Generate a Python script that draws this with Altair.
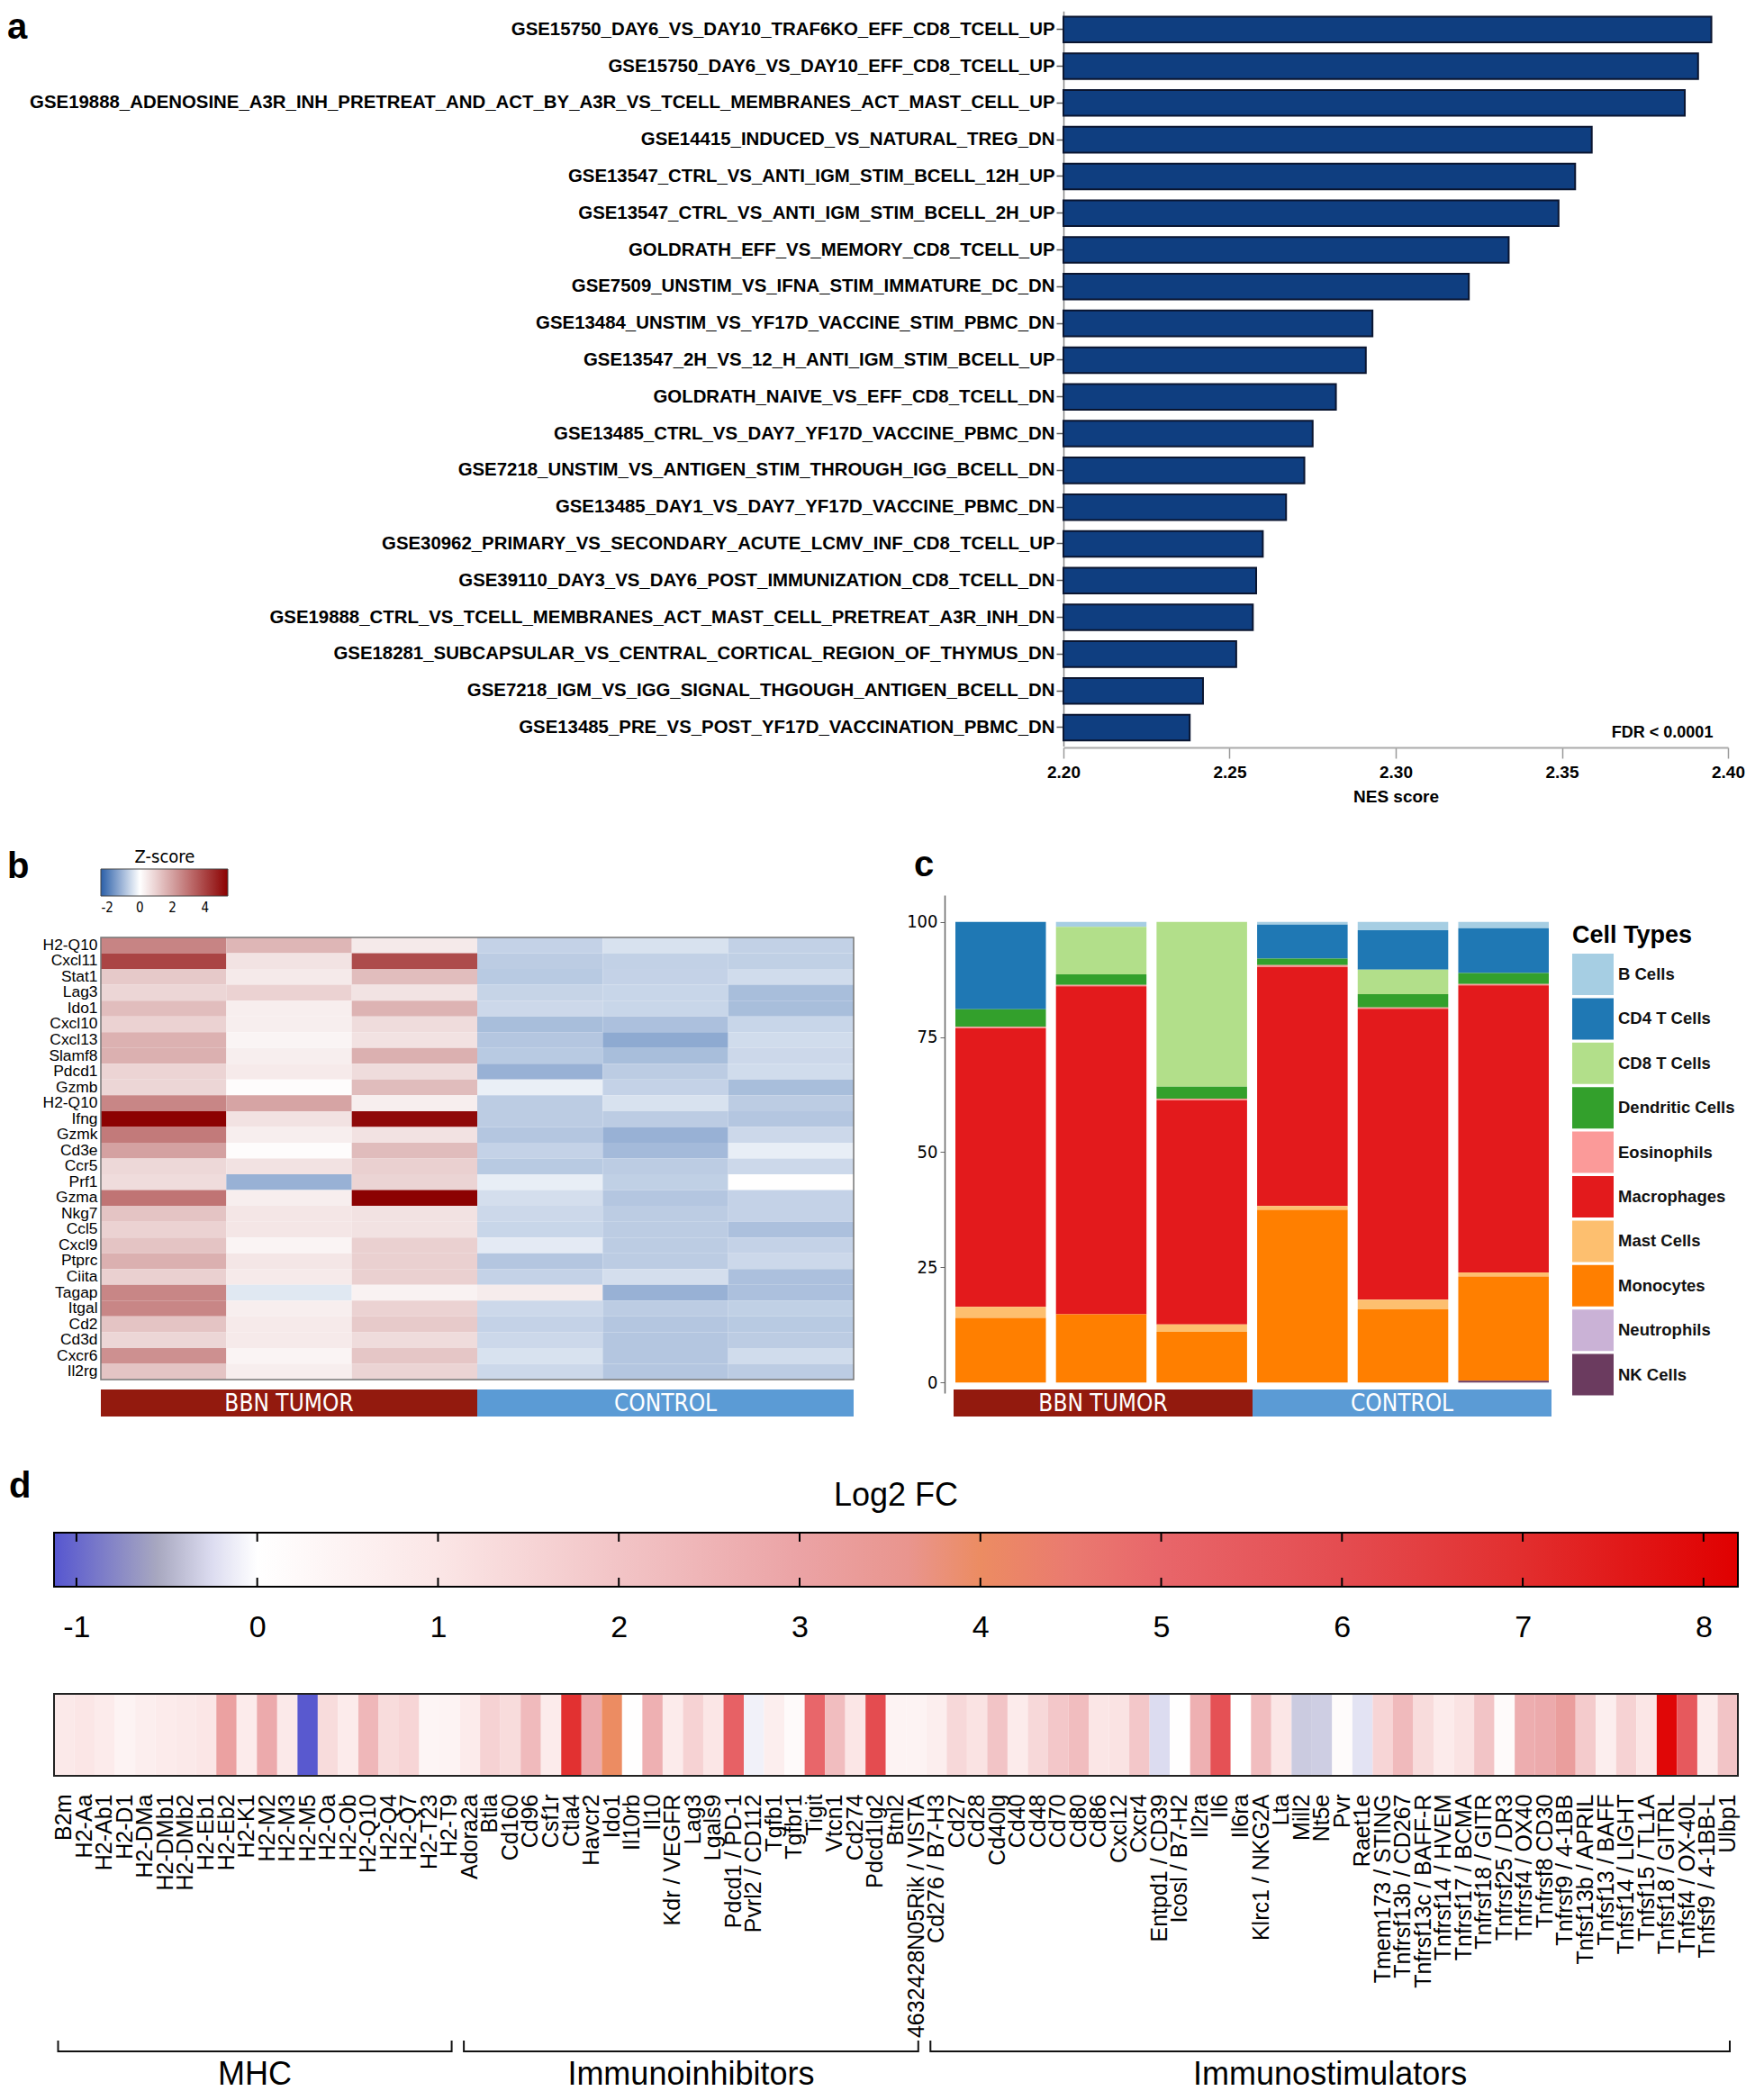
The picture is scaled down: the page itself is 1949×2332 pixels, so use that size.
import altair as alt
import pandas as pd

W, H = 1933, 2316
FONT = "Liberation Sans, Arial, Helvetica, sans-serif"
NARROW = "Liberation Sans Narrow, Arial Narrow, DejaVu Sans Condensed, Liberation Sans, sans-serif"
ASCII_MINUS = "datum.value < 0 ? '-' + abs(datum.value) : '' + datum.value"

# ---------------- panel a data ----------------
gene_sets = [
    "GSE15750_DAY6_VS_DAY10_TRAF6KO_EFF_CD8_TCELL_UP",
    "GSE15750_DAY6_VS_DAY10_EFF_CD8_TCELL_UP",
    "GSE19888_ADENOSINE_A3R_INH_PRETREAT_AND_ACT_BY_A3R_VS_TCELL_MEMBRANES_ACT_MAST_CELL_UP",
    "GSE14415_INDUCED_VS_NATURAL_TREG_DN",
    "GSE13547_CTRL_VS_ANTI_IGM_STIM_BCELL_12H_UP",
    "GSE13547_CTRL_VS_ANTI_IGM_STIM_BCELL_2H_UP",
    "GOLDRATH_EFF_VS_MEMORY_CD8_TCELL_UP",
    "GSE7509_UNSTIM_VS_IFNA_STIM_IMMATURE_DC_DN",
    "GSE13484_UNSTIM_VS_YF17D_VACCINE_STIM_PBMC_DN",
    "GSE13547_2H_VS_12_H_ANTI_IGM_STIM_BCELL_UP",
    "GOLDRATH_NAIVE_VS_EFF_CD8_TCELL_DN",
    "GSE13485_CTRL_VS_DAY7_YF17D_VACCINE_PBMC_DN",
    "GSE7218_UNSTIM_VS_ANTIGEN_STIM_THROUGH_IGG_BCELL_DN",
    "GSE13485_DAY1_VS_DAY7_YF17D_VACCINE_PBMC_DN",
    "GSE30962_PRIMARY_VS_SECONDARY_ACUTE_LCMV_INF_CD8_TCELL_UP",
    "GSE39110_DAY3_VS_DAY6_POST_IMMUNIZATION_CD8_TCELL_DN",
    "GSE19888_CTRL_VS_TCELL_MEMBRANES_ACT_MAST_CELL_PRETREAT_A3R_INH_DN",
    "GSE18281_SUBCAPSULAR_VS_CENTRAL_CORTICAL_REGION_OF_THYMUS_DN",
    "GSE7218_IGM_VS_IGG_SIGNAL_THGOUGH_ANTIGEN_BCELL_DN",
    "GSE13485_PRE_VS_POST_YF17D_VACCINATION_PBMC_DN",
]
nes = [2.395, 2.391, 2.387, 2.359, 2.354, 2.349, 2.334, 2.322, 2.293, 2.291,
       2.282, 2.275, 2.2725, 2.267, 2.260, 2.258, 2.257, 2.252, 2.242, 2.238]
fdr_text = "FDR < 0.0001"
nes_ticks = [2.20, 2.25, 2.30, 2.35, 2.40]

# ---------------- panel b data ----------------
hm_genes = ["H2-Q10", "Cxcl11", "Stat1", "Lag3", "Ido1", "Cxcl10", "Cxcl13", "Slamf8",
            "Pdcd1", "Gzmb", "H2-Q10 ", "Ifng", "Gzmk", "Cd3e", "Ccr5", "Prf1", "Gzma",
            "Nkg7", "Ccl5", "Cxcl9", "Ptprc", "Ciita", "Tagap", "Itgal", "Cd2", "Cd3d",
            "Cxcr6", "Il2rg"]
hm_samples = ["BBN 1", "BBN 2", "BBN 3", "CTRL 1", "CTRL 2", "CTRL 3"]
hm_z = [
    [2.6, 1.55, 0.45, -0.67, -0.44, -0.69],
    [3.95, 0.6, 3.8, -0.76, -0.69, -0.71],
    [1.15, 0.45, 1.4, -0.8, -0.67, -0.53],
    [0.87, 0.95, 0.6, -0.65, -0.62, -0.98],
    [1.4, 0.36, 1.6, -0.58, -0.62, -0.98],
    [0.95, 0.36, 0.74, -0.98, -0.94, -0.62],
    [1.65, 0.23, 0.61, -0.85, -1.28, -0.53],
    [1.67, 0.36, 1.67, -0.8, -0.98, -0.58],
    [0.9, 0.44, 0.74, -1.17, -0.76, -0.53],
    [0.87, 0.06, 1.42, -0.24, -0.67, -0.98],
    [2.56, 1.93, 0.36, -0.76, -0.44, -0.76],
    [5.35, 0.61, 5.2, -0.76, -0.76, -0.85],
    [2.82, 0.36, 0.61, -0.85, -1.17, -0.58],
    [2.0, 0.06, 1.42, -0.67, -1.03, -0.26],
    [0.83, 0.61, 0.99, -0.8, -0.76, -0.58],
    [0.74, -1.17, 0.91, -0.26, -0.71, 0.02],
    [2.94, 0.36, 5.35, -0.49, -0.85, -0.67],
    [1.25, 0.53, 0.61, -0.58, -0.76, -0.67],
    [0.95, 0.53, 0.61, -0.62, -0.76, -0.94],
    [1.25, 0.23, 0.99, -0.31, -0.76, -0.67],
    [1.67, 0.53, 0.99, -0.85, -0.76, -0.58],
    [0.99, 0.44, 0.99, -0.67, -0.49, -0.94],
    [2.56, -0.35, 0.28, 0.4, -1.17, -0.94],
    [2.56, 0.36, 0.95, -0.58, -0.76, -0.71],
    [1.25, 0.44, 1.12, -0.67, -0.85, -0.8],
    [0.87, 0.44, 0.74, -0.58, -0.85, -0.76],
    [2.35, 0.23, 1.21, -0.44, -0.85, -0.53],
    [1.25, 0.36, 0.91, -0.58, -0.85, -0.76],
]
z_stops = [-2.4, 0, 5.4]
z_colors = ["#2b5fa8", "#ffffff", "#8b0000"]
z_ticks = [-2, 0, 2, 4]

groups = ["BBN TUMOR", "CONTROL"]
group_start = [0, 3]
group_end = [3, 6]
group_colors = ["#931a0e", "#5b9bd5"]

# ---------------- panel c data ----------------
cell_types = ["B Cells", "CD4 T Cells", "CD8 T Cells", "Dendritic Cells", "Eosinophils",
              "Macrophages", "Mast Cells", "Monocytes", "Neutrophils", "NK Cells"]
cell_colors = ["#a6cee3", "#1f78b4", "#b2df8a", "#33a02c", "#fb9a99",
               "#e31a1c", "#fdbf6f", "#ff7f00", "#cab2d6", "#6b3b5f"]
cell_pct = {
    "BBN 1": [0.0, 19.0, 0.0, 3.8, 0.3, 60.5, 2.4, 14.0, 0.0, 0.0],
    "BBN 2": [1.1, 0.0, 10.3, 2.3, 0.3, 71.2, 0.0, 14.8, 0.0, 0.0],
    "BBN 3": [0.0, 0.0, 35.8, 2.6, 0.3, 48.7, 1.6, 11.0, 0.0, 0.0],
    "CTRL 1": [0.6, 7.4, 0.0, 1.4, 0.4, 51.9, 0.8, 37.5, 0.0, 0.0],
    "CTRL 2": [1.8, 8.6, 5.3, 2.9, 0.3, 63.1, 2.1, 15.9, 0.0, 0.0],
    "CTRL 3": [1.4, 9.7, 0.0, 2.4, 0.3, 62.3, 0.9, 22.6, 0.0, 0.4],
}
pct_ticks = [0, 25, 50, 75, 100]

# ---------------- panel d data ----------------
immune_genes = [
    "B2m", "H2-Aa", "H2-Ab1", "H2-D1", "H2-DMa", "H2-DMb1", "H2-DMb2", "H2-Eb1", "H2-Eb2",
    "H2-K1", "H2-M2", "H2-M3", "H2-M5", "H2-Oa", "H2-Ob", "H2-Q10", "H2-Q4", "H2-Q7",
    "H2-T23", "H2-T9",
    "Adora2a", "Btla", "Cd160", "Cd96", "Csf1r", "Ctla4", "Havcr2", "Ido1", "Il10rb", "Il10",
    "Kdr / VEGFR", "Lag3", "Lgals9", "Pdcd1 / PD-1", "Pvrl2 / CD112", "Tgfb1", "Tgfbr1",
    "Tigit", "Vtcn1", "Cd274", "Pdcd1lg2", "Btnl2", "4632428N05Rik / VISTA",
    "Cd276 / B7-H3", "Cd27", "Cd28", "Cd40lg", "Cd40", "Cd48", "Cd70", "Cd80", "Cd86",
    "Cxcl12", "Cxcr4", "Entpd1 / CD39", "Icosl / B7-H2", "Il2ra", "Il6", "Il6ra",
    "Klrc1 / NKG2A", "Lta", "Mill2", "Nt5e", "Pvr", "Raet1e", "Tmem173 / STING",
    "Tnfrsf13b / CD267", "Tnfrsf13c / BAFF-R", "Tnfrsf14 / HVEM", "Tnfrsf17 / BCMA",
    "Tnfrsf18 / GITR", "Tnfrsf25 / DR3", "Tnfrsf4 / OX40", "Tnfrsf8 CD30",
    "Tnfrsf9 / 4-1BB", "Tnfsf13b / APRIL", "Tnfsf13 / BAFF", "Tnfsf14 / LIGHT",
    "Tnfsf15 / TL1A", "Tnfsf18 / GITRL", "Tnfsf4 / OX-40L", "Tnfsf9 / 4-1BB-L", "Ulbp1",
]
immune_lfc = [
    0.9, 1.0, 0.8, 0.5, 0.7, 0.8, 0.9, 1.0, 3.1, 0.8, 2.8, 0.9, -1.1, 1.3, 0.8, 2.4, 1.3,
    1.5, 0.4, 0.5,
    0.8, 1.6, 1.3, 2.3, 0.8, 6.9, 2.8, 4.0, 0.05, 2.6, 0.8, 1.6, 1.0, 5.2, -0.1, 0.7, 0.2,
    5.0, 2.2, 1.0, 6.0, 0.5, 0.5,
    0.7, 1.4, 1.1, 2.0, 0.8, 1.4, 1.9, 2.2, 1.0, 1.1, 1.9, -0.25, 0.05, 2.6, 5.8, 0.0,
    2.2, 1.0, -0.35, -0.33, 0.15, -0.2, 1.5, 2.3, 1.3, 0.8, 1.1, 2.0, 0.2, 2.7, 2.8, 3.2,
    1.8, 0.7, 1.6, 1.0, 8.0, 5.5, 0.8, 2.0,
]
immune_groups = ["MHC", "Immunoinhibitors", "Immunostimulators"]
immune_group_sizes = [20, 23, 40]
fc_stops = [-1.124, -0.55, -0.25, 0, 1, 2, 3, 3.6, 4, 4.5, 5, 6, 7, 8.19]
fc_colors = ["#5656d0", "#a8a8c0", "#dcdcf0", "#ffffff", "#fbe6e6", "#f2c4c6", "#eba3a5",
             "#e9958e", "#ec8c62", "#ea7a70", "#e8666a", "#e44c50", "#e22e2e", "#e00000"]
fc_ticks = [-1, 0, 1, 2, 3, 4, 5, 6, 7, 8]

# =============== panel a ===============
df_a = pd.DataFrame({"set": gene_sets, "nes": nes})
df_fdr = pd.DataFrame({"set": [gene_sets[-1]], "nes": [2.3955], "label": [fdr_text]})
xa = alt.Scale(domain=[2.2, 2.4], range=[1173, 1911], zero=False, nice=False)
ya = alt.Scale(domain=gene_sets, range=[4.3, 820.4], paddingInner=0.3, paddingOuter=0.15)

a_bars = alt.Chart(df_a).mark_bar(fill="#0f3e80", stroke="#0a1530", strokeWidth=2).encode(
    y=alt.Y("set:N", scale=ya, sort=None, axis=alt.Axis(
        orient="left", offset=-1173, title=None, labelFont=FONT, labelFontSize=20.4,
        labelFontWeight="bold", labelLimit=0, labelColor="black", tickSize=8,
        tickColor="#555", tickWidth=1.5, domainColor="#888", domainWidth=1.5, labelPadding=2)),
    x=alt.X("nes:Q", scale=xa, axis=alt.Axis(
        orient="bottom", offset=822 - H, values=nes_ticks, format=".2f", title="NES score",
        titleFont=FONT, titleFontSize=19, titleFontWeight="bold", titleColor="black",
        titlePadding=8, labelFont=FONT, labelFontSize=19, labelFontWeight="bold",
        labelColor="black", labelFlush=False, tickSize=12, tickColor="#999", tickWidth=1.5,
        domainColor="#aaa", domainWidth=2, labelPadding=6)),
    x2=alt.datum(2.2),
)
a_fdr = alt.Chart(df_fdr).mark_text(font=FONT, fontSize=18, fontWeight="bold", align="right",
                                    baseline="middle", dy=6, color="black").encode(
    x=alt.X("nes:Q", scale=xa, axis=None),
    y=alt.Y("set:N", scale=ya, sort=None, axis=None),
    text="label:N",
)

# =============== panel b ===============
rows_b = []
for g, zs in zip(hm_genes, hm_z):
    for s, z in zip(hm_samples, zs):
        rows_b.append({"gene": g, "sample": s, "z": z})
df_b = pd.DataFrame(rows_b)
xb = alt.Scale(domain=hm_samples, range=[104, 940], paddingInner=0, paddingOuter=0)
yb = alt.Scale(domain=hm_genes, range=[1033, 1524], paddingInner=0, paddingOuter=0)
b_heat = alt.Chart(df_b).mark_rect().encode(
    x=alt.X("sample:N", scale=xb, sort=None, axis=None),
    y=alt.Y("gene:N", scale=yb, sort=None, axis=alt.Axis(
        orient="left", offset=-104, title=None, labelExpr="trim(datum.label)", ticks=False,
        tickSize=0, domain=False, labelPadding=4, labelFont=FONT, labelFontSize=17.4,
        labelColor="black")),
    color=alt.Color("z:Q", scale=alt.Scale(domain=z_stops, range=z_colors, interpolate="rgb"),
                    legend=alt.Legend(
        orient="none", legendX=104, legendY=934, direction="horizontal", gradientLength=141,
        gradientThickness=30, title="Z-score", titleAnchor="middle", titleFont=NARROW,
        titleFontSize=20, titleFontWeight="normal", titleColor="black", titlePadding=3,
        values=z_ticks, labelFont=NARROW, labelFontSize=15, labelColor="black", labelOffset=6,
        labelExpr=ASCII_MINUS, gradientStrokeColor="#444", gradientStrokeWidth=1, padding=0)),
)

df_grp = pd.DataFrame({"group": groups, "start": group_start, "end": group_end})
df_grp["mid"] = (df_grp["start"] + df_grp["end"]) / 2
grp_color = alt.Scale(domain=groups, range=group_colors)


def group_bars(x_range):
    xq = alt.Scale(domain=[0, 6], range=x_range, zero=False, nice=False)
    rect = alt.Chart(df_grp).mark_rect().encode(
        x=alt.X("start:Q", scale=xq, axis=None), x2="end:Q",
        y=alt.value(1535), y2=alt.value(1565),
        color=alt.Color("group:N", scale=grp_color, legend=None),
    )
    txt = alt.Chart(df_grp).mark_text(font=NARROW, fontSize=26, color="white",
                                      baseline="middle", align="center").encode(
        x=alt.X("mid:Q", scale=xq, axis=None), y=alt.value(1551), text="group:N",
    )
    return xq, rect, txt


xq_b, b_grect, b_gtxt = group_bars([104, 940])
df_bb = pd.DataFrame({"x0": [0], "x1": [6], "r0": [0], "r1": [len(hm_genes)]})
b_border = alt.Chart(df_bb).mark_rect(fillOpacity=0, stroke="#777", strokeWidth=1.5).encode(
    x=alt.X("x0:Q", scale=xq_b, axis=None), x2="x1:Q",
    y=alt.Y("r0:Q", scale=alt.Scale(domain=[0, len(hm_genes)], range=[1033, 1524],
                                    zero=False, nice=False), axis=None),
    y2="r1:Q",
)

# =============== panel c ===============
rows_c = []
for s in hm_samples:
    for i, ct in enumerate(cell_types):
        rows_c.append({"sample": s, "cell": ct, "pct": cell_pct[s][i],
                       "ord": len(cell_types) - 1 - i})
df_c = pd.DataFrame(rows_c)
xc = alt.Scale(domain=hm_samples, range=[1053, 1712], paddingInner=0.1, paddingOuter=0)
yc = alt.Scale(domain=[-2.3, 105.8], range=[1539, 986], zero=False, nice=False)
c_bars = alt.Chart(df_c).mark_bar().encode(
    x=alt.X("sample:N", scale=xc, sort=None, axis=None),
    y=alt.Y("pct:Q", scale=yc, stack="zero", axis=alt.Axis(
        orient="left", offset=-1041, values=pct_ticks, title=None, labelFont=NARROW,
        labelFontSize=20, labelColor="black", tickSize=5, tickColor="#666",
        domainColor="#666", domainWidth=1.5, labelPadding=3)),
    color=alt.Color("cell:N", scale=alt.Scale(domain=cell_types, range=cell_colors),
                    legend=alt.Legend(
                        orient="none", legendX=1738, legendY=1018, direction="vertical",
                        title="Cell Types", titleFont=FONT, titleFontSize=27,
                        titleFontWeight="bold", titleColor="black", titlePadding=6,
                        symbolType="square", symbolSize=2116, symbolStrokeWidth=0,
                        symbolOpacity=1, rowPadding=3.4, labelFont=FONT, labelFontSize=18.5,
                        labelFontWeight="bold", labelColor="#111", labelOffset=5,
                        padding=0, labelLimit=0)),
    order=alt.Order("ord:Q", sort="ascending"),
)
xq_c, c_grect, c_gtxt = group_bars([1051, 1715])

# =============== panel d ===============
xcb = alt.Scale(domain=[fc_stops[0], fc_stops[-1]], range=[52, 1922], zero=False, nice=False)
span = fc_stops[-1] - fc_stops[0]
grad = alt.LinearGradient(
    gradient="linear",
    stops=[alt.GradientStop(color=c, offset=(d - fc_stops[0]) / span)
           for d, c in zip(fc_stops, fc_colors)],
    x1=0, x2=1, y1=0, y2=0,
)
df_cb = pd.DataFrame({"lo": [fc_stops[0]], "hi": [fc_stops[-1]]})
d_cbar = alt.Chart(df_cb).mark_rect(color=grad, stroke="black", strokeWidth=2).encode(
    x=alt.X("lo:Q", scale=xcb, axis=alt.Axis(
        orient="bottom", offset=1754 - H, values=fc_ticks, title=None, ticks=False,
        tickSize=0, domain=False, labelPadding=28, labelFont=FONT, labelFontSize=34,
        labelColor="black", labelFlush=False, labelExpr=ASCII_MINUS, labelOverlap=False)),
    x2="hi:Q",
    y=alt.value(1694), y2=alt.value(1754),
)
df_ticks = pd.DataFrame({"t": fc_ticks})
d_tick_top = alt.Chart(df_ticks).mark_rule(color="black", strokeWidth=2).encode(
    x=alt.X("t:Q", scale=xcb, axis=None), y=alt.value(1695), y2=alt.value(1704))
d_tick_bot = alt.Chart(df_ticks).mark_rule(color="black", strokeWidth=2).encode(
    x=alt.X("t:Q", scale=xcb, axis=None), y=alt.value(1744), y2=alt.value(1753))
df_cbt = pd.DataFrame({"x": [(fc_stops[0] + fc_stops[-1]) / 2], "t": ["Log2 FC"]})
d_cbtitle = alt.Chart(df_cbt).mark_text(font=FONT, fontSize=36, color="black",
                                        baseline="middle").encode(
    x=alt.X("x:Q", scale=xcb, axis=None), y=alt.value(1653), text="t:N")

df_d = pd.DataFrame({"gene": immune_genes, "lfc": immune_lfc, "row": "FC"})
xd = alt.Scale(domain=immune_genes, range=[52, 1922], paddingInner=0, paddingOuter=0)
d_heat = alt.Chart(df_d).mark_rect().encode(
    x=alt.X("gene:N", scale=xd, sort=None, axis=alt.Axis(
        orient="bottom", offset=1964 - H, labelAngle=270, title=None, ticks=False,
        tickSize=0, domain=False, labelPadding=20, labelFont=FONT, labelFontSize=25,
        labelColor="black", labelLimit=0)),
    y=alt.Y("row:N", scale=alt.Scale(domain=["FC"], range=[1873, 1964], paddingInner=0,
                                     paddingOuter=0), axis=None),
    color=alt.Color("lfc:Q", scale=alt.Scale(domain=fc_stops, range=fc_colors,
                                             interpolate="rgb"), legend=None),
)

br_rows = []
cum = 0
for name, n in zip(immune_groups, immune_group_sizes):
    s, e = cum + 0.2, cum + n - 0.4
    br_rows.append({"name": name, "start": s, "end": e, "mid": (s + e) / 2})
    cum += n
df_br = pd.DataFrame(br_rows)
ntot = sum(immune_group_sizes)
xq_d = alt.Scale(domain=[0, ntot], range=[52, 1922], zero=False, nice=False)
br_h = alt.Chart(df_br).mark_rule(color="#111", strokeWidth=2).encode(
    x=alt.X("start:Q", scale=xq_d, axis=None), x2="end:Q", y=alt.value(2270))
br_l = alt.Chart(df_br).mark_rule(color="#111", strokeWidth=2).encode(
    x=alt.X("start:Q", scale=xq_d, axis=None), y=alt.value(2258), y2=alt.value(2271))
br_r = alt.Chart(df_br).mark_rule(color="#111", strokeWidth=2).encode(
    x=alt.X("end:Q", scale=xq_d, axis=None), y=alt.value(2258), y2=alt.value(2271))
br_t = alt.Chart(df_br).mark_text(font=FONT, fontSize=36, color="black",
                                  baseline="middle").encode(
    x=alt.X("mid:Q", scale=xq_d, axis=None), y=alt.value(2296), text="name:N")
df_db = pd.DataFrame({"x0": [0], "x1": [ntot], "r0": [0], "r1": [1]})
d_border = alt.Chart(df_db).mark_rect(fillOpacity=0, stroke="#222", strokeWidth=2).encode(
    x=alt.X("x0:Q", scale=xq_d, axis=None), x2="x1:Q",
    y=alt.Y("r0:Q", scale=alt.Scale(domain=[0, 1], range=[1873, 1964], zero=False, nice=False),
            axis=None),
    y2="r1:Q",
)


# =============== panel letters ===============
def letter(ch, x, y):
    return alt.Chart(pd.DataFrame({"t": [ch]})).mark_text(
        font=FONT, fontSize=40, fontWeight="bold", align="left", baseline="alphabetic",
        color="black").encode(text="t:N", x=alt.value(x), y=alt.value(y))


letters = [letter("a", 0, 35), letter("b", 0, 967), letter("c", 1007, 965),
           letter("d", 2, 1655)]

chart = alt.layer(
    a_bars, a_fdr,
    b_heat, b_grect, b_gtxt, b_border,
    c_bars, c_grect, c_gtxt,
    d_cbar, d_tick_top, d_tick_bot, d_cbtitle,
    d_heat, br_h, br_l, br_r, br_t, d_border,
    *letters
).resolve_scale(
    x="independent", y="independent", color="independent"
).properties(
    width=W, height=H, padding=0, autosize=alt.AutoSizeParams(type="none")
).configure_view(stroke=None).configure_axis(grid=False)

chart.save("out.html", embed_options={"renderer": "svg", "actions": False})
